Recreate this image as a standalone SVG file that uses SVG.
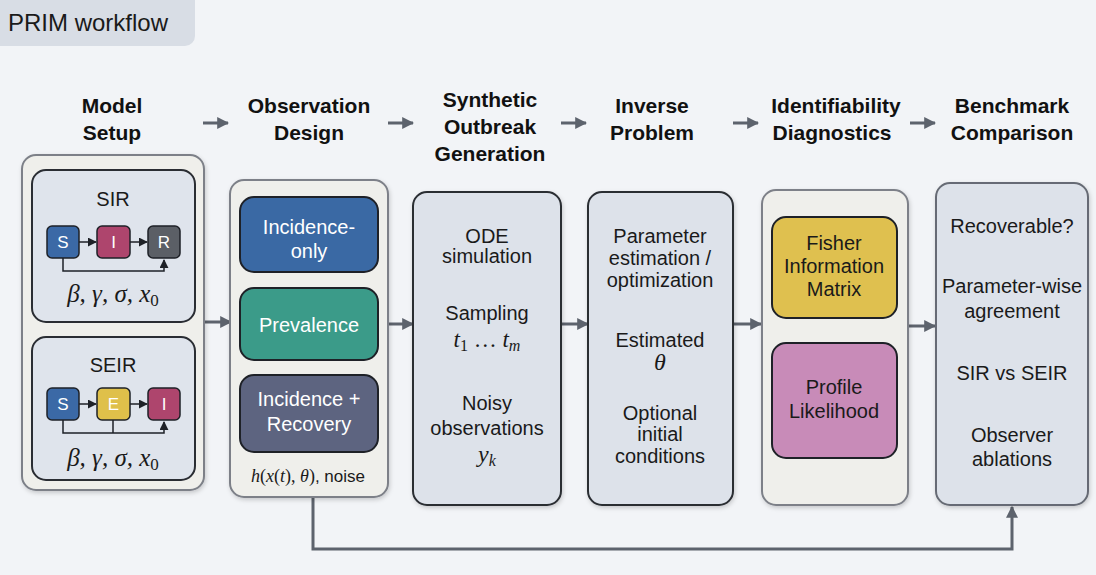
<svg xmlns="http://www.w3.org/2000/svg" width="1096" height="575" viewBox="0 0 1096 575">
<style>
.bg{fill:#f2f4f7}
.hdr{font-family:"Liberation Sans",Roboto,Arial,sans-serif;font-weight:bold;font-size:21px;fill:#111;text-anchor:middle}
.t{font-family:"Liberation Sans",Roboto,Arial,sans-serif;font-size:20px;fill:#1a1a1a;text-anchor:middle}
.w{font-family:"Liberation Sans",Roboto,Arial,sans-serif;font-size:20px;fill:#fff;text-anchor:middle}
.sw{font-family:"Liberation Sans",Roboto,Arial,sans-serif;font-size:17px;fill:#fff;text-anchor:middle}
.m{font-family:"Liberation Serif","DejaVu Serif",serif;font-style:italic;fill:#1a1a1a;text-anchor:middle}
.outerW{fill:#efefeb;stroke:#7d8088;stroke-width:2}
.outerB{fill:#dde2ea;stroke:#2a2d33;stroke-width:2}
.inner{fill:#dfe4ec;stroke:#2a2d33;stroke-width:2}
.pill{stroke:#1e2127;stroke-width:2}
.cmp{stroke:#1e2127;stroke-width:1.5}
.conn{fill:none;stroke:#5d636d;stroke-width:3}
.small{fill:none;stroke:#1e2127;stroke-width:1.5}
</style>
<defs>
<marker id="ah" viewBox="0 0 10 10" refX="9" refY="5" markerWidth="4" markerHeight="4" orient="auto" markerUnits="strokeWidth">
<path d="M0,0 L10,5 L0,10 z" fill="#5d636d"/>
</marker>
<marker id="ahs" viewBox="0 0 10 10" refX="9" refY="5" markerWidth="6" markerHeight="6" orient="auto" markerUnits="strokeWidth">
<path d="M0,0 L10,5 L0,10 z" fill="#1e2127"/>
</marker>
<filter id="sh" x="-10%" y="-10%" width="120%" height="120%">
<feDropShadow dx="1" dy="2" stdDeviation="2" flood-color="#000" flood-opacity="0.18"/>
</filter>
</defs>
<rect class="bg" x="0" y="0" width="1096" height="575"/>
<g id="title">
<rect x="-12" y="-12" width="207" height="58" rx="10" fill="#d8dde5"/>
<text x="8" y="31" font-family="'Liberation Sans',Roboto,Arial,sans-serif" font-size="24" fill="#1a1a1a">PRIM workflow</text>
</g>
<g id="headers">
<text class="hdr" x="112" y="113">Model</text>
<text class="hdr" x="112" y="140">Setup</text>
<text class="hdr" x="309" y="113">Observation</text>
<text class="hdr" x="309" y="140">Design</text>
<text class="hdr" x="490" y="107">Synthetic</text>
<text class="hdr" x="490" y="134">Outbreak</text>
<text class="hdr" x="490" y="161">Generation</text>
<text class="hdr" x="652" y="113">Inverse</text>
<text class="hdr" x="652" y="140">Problem</text>
<text class="hdr" x="836" y="113">Identifiability</text>
<text class="hdr" x="832" y="140">Diagnostics</text>
<text class="hdr" x="1012" y="113">Benchmark</text>
<text class="hdr" x="1012" y="140">Comparison</text>
</g>
<g id="connectors">
<line class="conn" x1="203" y1="123" x2="228" y2="123" marker-end="url(#ah)"/>
<line class="conn" x1="388" y1="123" x2="413" y2="123" marker-end="url(#ah)"/>
<line class="conn" x1="561" y1="123" x2="586" y2="123" marker-end="url(#ah)"/>
<line class="conn" x1="733" y1="123" x2="758" y2="123" marker-end="url(#ah)"/>
<line class="conn" x1="910" y1="123" x2="935" y2="123" marker-end="url(#ah)"/>
<line class="conn" x1="204" y1="322" x2="231" y2="322" marker-end="url(#ah)"/>
<line class="conn" x1="388" y1="324" x2="413" y2="324" marker-end="url(#ah)"/>
<line class="conn" x1="561" y1="324" x2="588" y2="324" marker-end="url(#ah)"/>
<line class="conn" x1="733" y1="324" x2="761" y2="324" marker-end="url(#ah)"/>
<line class="conn" x1="908" y1="326" x2="935" y2="326" marker-end="url(#ah)"/>
<polyline class="conn" points="313,497 313,549 1012,549 1012,507" marker-end="url(#ah)"/>
</g>
<g id="model-setup">
<rect class="outerW" x="22" y="155" width="182" height="335" rx="14" filter="url(#sh)"/>
<g id="sir">
<rect class="inner" x="32" y="170" width="163" height="152" rx="14"/>
<text class="t" x="113" y="206">SIR</text>
<polyline class="small" points="63,258 63,271 164,271 164,260" marker-end="url(#ahs)"/>
<line class="small" x1="79" y1="242" x2="96" y2="242" marker-end="url(#ahs)"/>
<line class="small" x1="130" y1="242" x2="147" y2="242" marker-end="url(#ahs)"/>
<rect class="cmp" x="47" y="226" width="32" height="32" rx="5" fill="#3b69a6"/>
<rect class="cmp" x="97" y="226" width="33" height="32" rx="5" fill="#ae456d"/>
<rect class="cmp" x="148" y="226" width="32" height="32" rx="5" fill="#5b5f66"/>
<text class="sw" x="63" y="248">S</text>
<text class="sw" x="113.5" y="248">I</text>
<text class="sw" x="164" y="248">R</text>
<text class="m" x="113" y="302" font-size="25">β, γ, σ, x<tspan font-size="17" dy="4" font-style="normal">0</tspan></text>
</g>
<g id="seir">
<rect class="inner" x="32" y="337" width="163" height="143" rx="14"/>
<text class="t" x="113" y="372">SEIR</text>
<polyline class="small" points="63,420 63,433 164,433 164,422" marker-end="url(#ahs)"/>
<line class="small" x1="113" y1="420" x2="113" y2="433"/>
<line class="small" x1="79" y1="404" x2="96" y2="404" marker-end="url(#ahs)"/>
<line class="small" x1="130" y1="404" x2="147" y2="404" marker-end="url(#ahs)"/>
<rect class="cmp" x="47" y="388" width="32" height="32" rx="5" fill="#3b69a6"/>
<rect class="cmp" x="97" y="388" width="33" height="32" rx="5" fill="#dfc04a"/>
<rect class="cmp" x="148" y="388" width="32" height="32" rx="5" fill="#ae456d"/>
<text class="sw" x="63" y="410">S</text>
<text class="sw" x="113.5" y="410">E</text>
<text class="sw" x="164" y="410">I</text>
<text class="m" x="113" y="466" font-size="25">β, γ, σ, x<tspan font-size="17" dy="4" font-style="normal">0</tspan></text>
</g>
</g>
<g id="observation-design">
<rect class="outerW" x="230" y="180" width="158" height="317" rx="14" filter="url(#sh)"/>
<rect class="pill" x="240" y="197" width="138" height="75" rx="14" fill="#3a69a4"/>
<text class="w" x="309" y="234">Incidence-</text>
<text class="w" x="309" y="258">only</text>
<rect class="pill" x="240" y="288" width="138" height="72" rx="14" fill="#3b9b89"/>
<text class="w" x="309" y="332">Prevalence</text>
<rect class="pill" x="240" y="375" width="138" height="77" rx="14" fill="#5d6480"/>
<text class="w" x="309" y="406">Incidence +</text>
<text class="w" x="309" y="431">Recovery</text>
<text x="308" y="482" font-size="18" text-anchor="middle" fill="#1a1a1a"><tspan font-family="'Liberation Serif',serif" font-style="italic">h</tspan><tspan font-family="'Liberation Serif',serif">(</tspan><tspan font-family="'Liberation Serif',serif" font-style="italic">x</tspan><tspan font-family="'Liberation Serif',serif">(</tspan><tspan font-family="'Liberation Serif',serif" font-style="italic">t</tspan><tspan font-family="'Liberation Serif',serif">), </tspan><tspan font-family="'Liberation Serif',serif" font-style="italic">θ</tspan><tspan font-family="'Liberation Serif',serif">)</tspan><tspan font-family="'Liberation Sans',Arial,sans-serif" font-size="17">, noise</tspan></text>
</g>
<g id="synthetic-outbreak">
<rect class="outerB" x="413" y="192" width="148" height="313" rx="14" filter="url(#sh)"/>
<text class="t" x="487" y="243">ODE</text>
<text class="t" x="487" y="263">simulation</text>
<text class="t" x="487" y="320">Sampling</text>
<text class="m" x="487" y="347" font-size="23">t<tspan font-size="16" dy="4" font-style="normal">1</tspan><tspan dy="-4" font-style="normal"> … </tspan>t<tspan font-size="16" dy="4">m</tspan></text>
<text class="t" x="487" y="410">Noisy</text>
<text class="t" x="487" y="435">observations</text>
<text class="m" x="487" y="462" font-size="24">y<tspan font-size="16" dy="4">k</tspan></text>
</g>
<g id="inverse-problem">
<rect class="outerB" x="588" y="192" width="145" height="313" rx="14" filter="url(#sh)"/>
<text class="t" x="660" y="243">Parameter</text>
<text class="t" x="660" y="265">estimation /</text>
<text class="t" x="660" y="287">optimization</text>
<text class="t" x="660" y="347">Estimated</text>
<text class="m" x="660" y="370" font-size="24">θ</text>
<text class="t" x="660" y="420">Optional</text>
<text class="t" x="660" y="441">initial</text>
<text class="t" x="660" y="463">conditions</text>
</g>
<g id="identifiability">
<rect class="outerW" x="762" y="190" width="146" height="315" rx="14" filter="url(#sh)"/>
<rect class="pill" x="772" y="217" width="125" height="101" rx="14" fill="#dfc04f"/>
<text class="t" x="834" y="250">Fisher</text>
<text class="t" x="834" y="273">Information</text>
<text class="t" x="834" y="296">Matrix</text>
<rect class="pill" x="772" y="343" width="125" height="115" rx="14" fill="#c88bb8"/>
<text class="t" x="834" y="394">Profile</text>
<text class="t" x="834" y="418">Likelihood</text>
</g>
<g id="benchmark">
<rect x="936" y="183" width="152" height="322" rx="14" fill="#dde2ea" stroke="#666b74" stroke-width="2" filter="url(#sh)"/>
<text class="t" x="1012" y="233">Recoverable?</text>
<text class="t" x="1012" y="293">Parameter-wise</text>
<text class="t" x="1012" y="318">agreement</text>
<text class="t" x="1012" y="380">SIR vs SEIR</text>
<text class="t" x="1012" y="442">Observer</text>
<text class="t" x="1012" y="466">ablations</text>
</g>
</svg>
